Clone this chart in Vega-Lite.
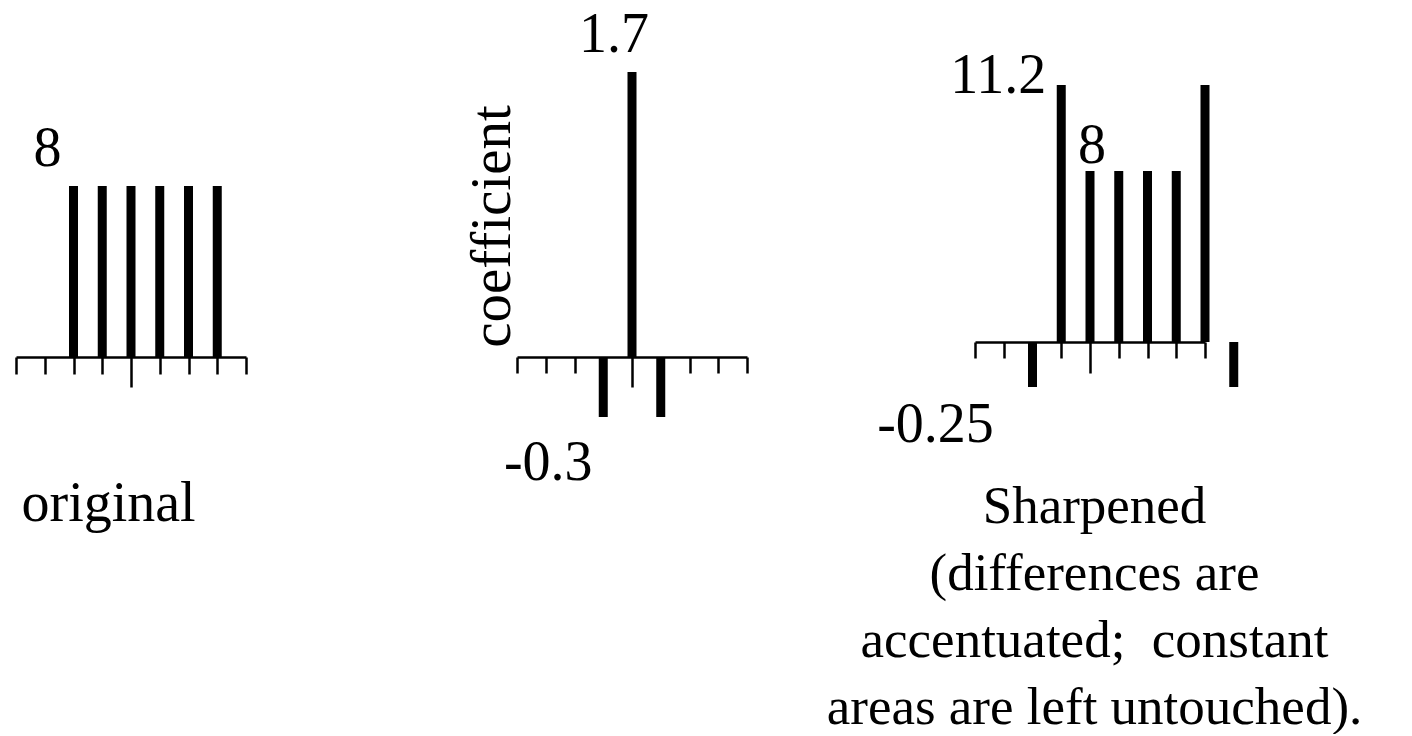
{
  "$schema": "https://vega.github.io/schema/vega-lite/v6.json",
  "padding": {"left": 14, "top": 0, "right": 0, "bottom": 0},
  "background": "white",
  "config": {
    "view": {"stroke": null},
    "axis": {"grid": false},
    "text": {"font": "Liberation Serif", "fontSize": 56, "color": "black"}
  },
  "datasets": {
    "original": [{"i": -2, "v": 8}, {"i": -1, "v": 8}, {"i": 0, "v": 8}, {"i": 1, "v": 8}, {"i": 2, "v": 8}, {"i": 3, "v": 8}],
    "kernel": [{"i": -1, "v": -0.3}, {"i": 0, "v": 1.7}, {"i": 1, "v": -0.3}],
    "sharpened": [{"i": -2, "v": -0.25}, {"i": -1, "v": 11.2}, {"i": 0, "v": 8}, {"i": 1, "v": 8}, {"i": 2, "v": 8}, {"i": 3, "v": 8}, {"i": 4, "v": 11.2}, {"i": 5, "v": -0.25}]
  },
  "spacing": 271,
  "bounds": "flush",
  "hconcat": [
    {
      "width": 230,
      "height": 357,
      "data": {"name": "original"},
      "encoding": {
        "x": {"field": "i", "type": "quantitative",
          "scale": {"domain": [-4, 4], "nice": false, "zero": false},
          "axis": {"values": [-4, -3, -2, -1, 0, 1, 2, 3, 4], "labels": false, "grid": false,
            "domainColor": "black", "domainWidth": 2.5, "tickColor": "black", "tickWidth": 2.5,
            "tickSize": {"condition": {"test": "datum.value == 0", "value": 30}, "value": 17},
            "title": "original", "titleFont": "Liberation Serif", "titleFontSize": 56, "titleFontWeight": "normal",
            "titleColor": "black", "titleAlign": "left", "titleAnchor": "start", "titleX": 5, "titleY": 163, "titleBaseline": "alphabetic"}},
        "y": {"field": "v", "type": "quantitative",
          "scale": {"domain": [0, 8], "range": [357, 186], "nice": false, "zero": false},
          "axis": null}
      },
      "layer": [
        {"mark": {"type": "rule", "strokeWidth": 9, "color": "black"}, "encoding": {"y2": {"datum": 0}}},
        {"transform": [{"filter": "datum.i == -2"}],
         "mark": {"type": "text", "align": "center", "baseline": "alphabetic", "dx": -26, "dy": -20},
         "encoding": {"text": {"field": "v", "type": "nominal"}}}
      ]
    },
    {
      "spacing": 228,
      "bounds": "flush",
      "hconcat": [
        {
          "width": 230,
          "height": 357,
          "data": {"name": "kernel"},
          "encoding": {
            "x": {"field": "i", "type": "quantitative",
              "scale": {"domain": [-4, 4], "nice": false, "zero": false},
              "axis": {"values": [-4, -3, -2, -1, 0, 1, 2, 3, 4], "labels": false, "grid": false, "title": null,
                "domainColor": "black", "domainWidth": 2.5, "tickColor": "black", "tickWidth": 2.5,
                "tickSize": {"condition": {"test": "datum.value == 0", "value": 30}, "value": 16}}},
            "y": {"field": "v", "type": "quantitative",
              "scale": {"domain": [-0.3, 0, 1.7], "range": [417, 357, 72], "nice": false, "zero": false},
              "axis": {"title": "coefficient", "domain": false, "ticks": false, "labels": false, "grid": false,
                "titleFont": "Liberation Serif", "titleFontSize": 57, "titleFontWeight": "normal", "titleColor": "black",
                "titleAngle": 270, "titleAlign": "center", "titleBaseline": "alphabetic", "titleX": -8, "titleY": 226}}
          },
          "layer": [
            {"mark": {"type": "rule", "strokeWidth": 9, "color": "black"}, "encoding": {"y2": {"datum": 0}}},
            {"transform": [{"filter": "datum.i == 0"}],
             "mark": {"type": "text", "align": "center", "baseline": "alphabetic", "dx": -18, "dy": -20},
             "encoding": {"text": {"field": "v", "type": "nominal"}}},
            {"transform": [{"filter": "datum.i == -1"}],
             "mark": {"type": "text", "align": "center", "baseline": "alphabetic", "dx": -55, "dy": 63},
             "encoding": {"text": {"field": "v", "type": "nominal"}}}
          ]
        },
        {
          "width": 230,
          "height": 342,
          "data": {"name": "sharpened"},
          "encoding": {
            "x": {"field": "i", "type": "quantitative",
              "scale": {"domain": [-4, 4], "nice": false, "zero": false},
              "axis": {"values": [-4, -3, -2, -1, 0, 1, 2, 3, 4], "labels": false, "grid": false,
                "domainColor": "black", "domainWidth": 2.5, "tickColor": "black", "tickWidth": 2.5,
                "tickSize": {"condition": {"test": "datum.value == 0", "value": 31}, "value": 16},
                "title": ["Sharpened", "(differences are", "accentuated;\u00a0 constant", "areas are left untouched)."],
                "titleFont": "Liberation Serif", "titleFontSize": 53, "titleFontWeight": "normal", "titleColor": "black",
                "titleAlign": "center", "titleX": 119, "titleY": 180, "titleBaseline": "alphabetic", "titleLineHeight": 67}},
            "y": {"field": "v", "type": "quantitative",
              "scale": {"domain": [-0.25, 0, 8, 11.2], "range": [387, 342, 171, 85], "nice": false, "zero": false},
              "axis": null}
          },
          "layer": [
            {"mark": {"type": "rule", "strokeWidth": 9, "color": "black"}, "encoding": {"y2": {"datum": 0}}},
            {"transform": [{"filter": "datum.i == -1"}],
             "mark": {"type": "text", "align": "right", "baseline": "alphabetic", "dx": -15, "dy": 8},
             "encoding": {"text": {"field": "v", "type": "nominal"}}},
            {"transform": [{"filter": "datum.i == 0"}],
             "mark": {"type": "text", "align": "center", "baseline": "alphabetic", "dx": 2, "dy": -8},
             "encoding": {"text": {"field": "v", "type": "nominal"}}},
            {"transform": [{"filter": "datum.i == -2"}],
             "mark": {"type": "text", "align": "center", "baseline": "alphabetic", "dx": -97, "dy": 55},
             "encoding": {"text": {"field": "v", "type": "nominal"}}}
          ]
        }
      ]
    }
  ]
}
